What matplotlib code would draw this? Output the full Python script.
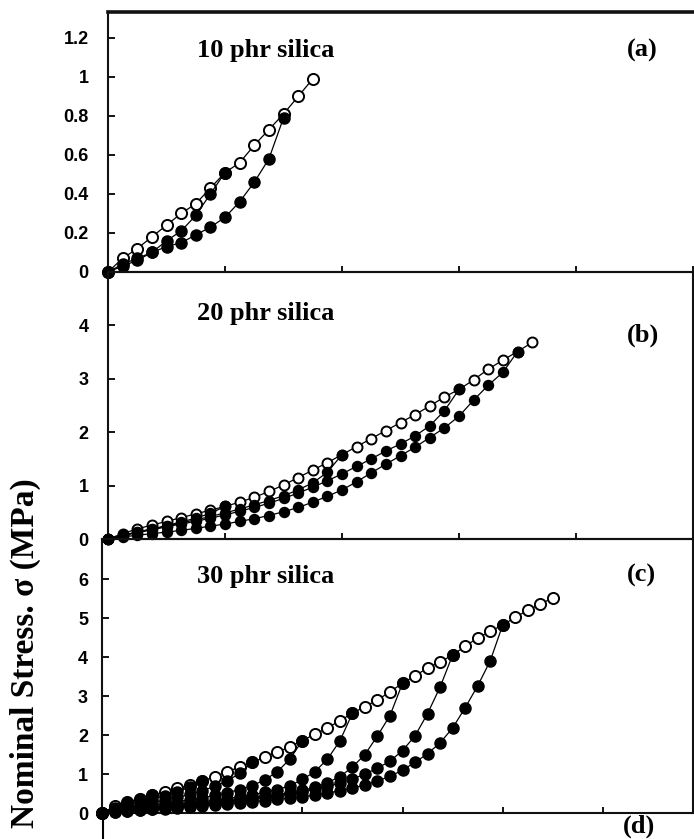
import matplotlib
matplotlib.use("Agg")
import matplotlib.pyplot as plt

# ---------------- data ----------------
STRAIN_GRID = [0.0, 0.125, 0.25, 0.375, 0.5, 0.625, 0.75, 0.875, 1.0, 1.125,
               1.25, 1.375, 1.5, 1.625, 1.75, 1.875, 2.0, 2.125, 2.25, 2.375,
               2.5, 2.625, 2.75, 2.875, 3.0, 3.125, 3.25, 3.375, 3.5, 3.625,
               3.75, 3.875, 4.0, 4.125, 4.25, 4.375, 4.5]

# (a) 10 phr silica
A_LOADING = [0.00, 0.07, 0.12, 0.18, 0.24, 0.30, 0.35, 0.43, 0.51, 0.56,
             0.65, 0.73, 0.81, 0.90, 0.99]
A_CYCLE_10 = [0.00, 0.04, 0.07, 0.10, 0.16, 0.21, 0.29, 0.40, 0.51]
A_CYCLE_15 = [0.00, 0.03, 0.06, 0.10, 0.13, 0.15, 0.19, 0.23, 0.28, 0.36,
              0.46, 0.58, 0.79]

# (b) 20 phr silica
B_LOADING = [0.00, 0.10, 0.19, 0.26, 0.33, 0.40, 0.47, 0.54, 0.61, 0.69,
             0.78, 0.89, 1.01, 1.15, 1.29, 1.43, 1.58, 1.73, 1.88, 2.03,
             2.18, 2.33, 2.49, 2.66, 2.80, 2.98, 3.18, 3.35, 3.51, 3.68]
B_CYCLE_10 = [0.00, 0.07, 0.13, 0.19, 0.25, 0.32, 0.39, 0.48, 0.61]
B_CYCLE_20 = [0.00, 0.07, 0.13, 0.18, 0.24, 0.30, 0.36, 0.42, 0.49, 0.56,
              0.64, 0.72, 0.81, 0.92, 1.05, 1.25, 1.58]
B_CYCLE_30 = [0.00, 0.06, 0.12, 0.17, 0.23, 0.28, 0.33, 0.39, 0.45, 0.52,
              0.59, 0.67, 0.76, 0.86, 0.97, 1.09, 1.22, 1.36, 1.50, 1.65,
              1.78, 1.93, 2.12, 2.40, 2.80]
B_CYCLE_35 = [0.00, 0.04, 0.07, 0.10, 0.13, 0.16, 0.20, 0.24, 0.28, 0.33,
              0.38, 0.44, 0.51, 0.59, 0.69, 0.80, 0.92, 1.07, 1.24, 1.40,
              1.56, 1.72, 1.90, 2.08, 2.30, 2.60, 2.88, 3.12, 3.51]

# (c) 30 phr silica
C_LOADING = [0.00, 0.17, 0.28, 0.37, 0.46, 0.54, 0.63, 0.72, 0.82, 0.93,
             1.06, 1.18, 1.30, 1.43, 1.56, 1.70, 1.86, 2.02, 2.18, 2.37,
             2.56, 2.73, 2.90, 3.11, 3.33, 3.52, 3.72, 3.88, 4.05, 4.28,
             4.49, 4.66, 4.82, 5.02, 5.20, 5.36, 5.52]
C_CYCLE_05 = [0.00, 0.14, 0.26, 0.36, 0.46]
C_CYCLE_10 = [0.00, 0.11, 0.20, 0.28, 0.36, 0.44, 0.54, 0.66, 0.82]
C_CYCLE_15 = [0.00, 0.08, 0.15, 0.21, 0.27, 0.33, 0.40, 0.48, 0.57, 0.68,
              0.82, 1.02, 1.30]
C_CYCLE_20 = [0.00, 0.06, 0.11, 0.16, 0.20, 0.25, 0.29, 0.34, 0.39, 0.45,
              0.52, 0.60, 0.70, 0.85, 1.06, 1.38, 1.86]
C_CYCLE_25 = [0.00, 0.05, 0.09, 0.12, 0.16, 0.19, 0.22, 0.26, 0.29, 0.33,
              0.37, 0.42, 0.47, 0.53, 0.60, 0.70, 0.86, 1.06, 1.38, 1.85,
              2.56]
C_CYCLE_30 = [0.00, 0.04, 0.07, 0.10, 0.13, 0.16, 0.19, 0.22, 0.25, 0.28,
              0.31, 0.35, 0.39, 0.43, 0.47, 0.52, 0.58, 0.66, 0.78, 0.93,
              1.18, 1.50, 1.98, 2.50, 3.33]
C_CYCLE_35 = [0.00, 0.03, 0.06, 0.08, 0.11, 0.13, 0.16, 0.19, 0.22, 0.25,
              0.28, 0.32, 0.36, 0.40, 0.44, 0.49, 0.55, 0.61, 0.68, 0.77,
              0.87, 1.00, 1.15, 1.33, 1.60, 1.98, 2.55, 3.23, 4.05]
C_CYCLE_40 = [0.00, 0.03, 0.05, 0.07, 0.09, 0.11, 0.13, 0.15, 0.18, 0.20,
              0.23, 0.26, 0.29, 0.32, 0.35, 0.38, 0.42, 0.46, 0.51, 0.57,
              0.64, 0.72, 0.82, 0.94, 1.10, 1.30, 1.52, 1.80, 2.18, 2.70,
              3.26, 3.90, 4.82]

PANEL_TITLES = ["10 phr silica", "20 phr silica", "30 phr silica"]
PANEL_LETTERS = ["(a)", "(b)", "(c)", "(d)"]
A_YTICKS = [0, 0.2, 0.4, 0.6, 0.8, 1.0, 1.2]
A_YTICKLABELS = ["0", "0.2", "0.4", "0.6", "0.8", "1", "1.2"]
B_YTICKS = [0, 1, 2, 3, 4]
B_YTICKLABELS = ["0", "1", "2", "3", "4"]
C_YTICKS = [0, 1, 2, 3, 4, 5, 6]
C_YTICKLABELS = ["0", "1", "2", "3", "4", "5", "6"]
X_TICKS = [1, 2, 3, 4, 5]
Y_LABEL = "Nominal Stress. \u03c3 (MPa)"

# ---------------- figure ----------------
W, H = 694, 839
fig = plt.figure(figsize=(W / 100, H / 100), dpi=100)
fig.patch.set_facecolor("white")

SERIF = ["Liberation Serif", "DejaVu Serif"]
SANS = ["Liberation Sans", "DejaVu Sans"]


def ax_px(left, top, right, bottom):
    ax = fig.add_axes([left / W, 1 - bottom / H, (right - left) / W, (bottom - top) / H])
    ax.patch.set_visible(False)
    return ax


def style(ax, xlim, ylim, yticks, yticklabels, pad, show_right=True):
    ax.set_xlim(*xlim)
    ax.set_ylim(*ylim)
    ax.set_xticks(X_TICKS)
    ax.set_xticklabels([])
    ax.set_yticks(yticks)
    ax.set_yticklabels(yticklabels, fontfamily=SANS, fontweight="bold", fontsize=13)
    ax.tick_params(axis="y", direction="in", length=5, width=1.3, pad=pad, colors="black")
    ax.tick_params(axis="x", direction="in", length=4, width=1.3)
    for s in ax.spines.values():
        s.set_linewidth(1.5)
        s.set_color("#111111")
    ax.spines["right"].set_visible(show_right)


def draw(ax, loading, cycles, ms):
    ax.plot(STRAIN_GRID[:len(loading)], loading, "-", color="black", lw=0.9,
            marker="o", ms=ms, mfc="white", mec="black", mew=1.4,
            clip_on=False, zorder=3)
    for cyc in cycles:
        ax.plot(STRAIN_GRID[:len(cyc)], cyc, "-", color="black", lw=0.9,
                marker="o", ms=ms, mfc="black", mec="black", mew=1.0,
                clip_on=False, zorder=4)


# (a)
ax_a = ax_px(108, 12, 693, 272)
style(ax_a, (0, 5.0), (0, 1.333), A_YTICKS, A_YTICKLABELS, pad=14, show_right=False)
ax_a.spines["top"].set_linewidth(2.6)
draw(ax_a, A_LOADING, [A_CYCLE_10, A_CYCLE_15], 8)

# (b)
ax_b = ax_px(108, 272, 693, 539)
style(ax_b, (0, 5.0), (0, 5.0), B_YTICKS, B_YTICKLABELS, pad=14)
draw(ax_b, B_LOADING, [B_CYCLE_10, B_CYCLE_20, B_CYCLE_30, B_CYCLE_35], 7.2)

# (c)
ax_c = ax_px(102, 539, 693, 813)
style(ax_c, (0, 5.9), (0, 7.03), C_YTICKS, C_YTICKLABELS, pad=10)
draw(ax_c, C_LOADING, [C_CYCLE_05, C_CYCLE_10, C_CYCLE_15, C_CYCLE_20,
                       C_CYCLE_25, C_CYCLE_30, C_CYCLE_35, C_CYCLE_40], 8)

# (d) (cut off by the bottom of the figure)
ax_d = ax_px(103, 813, 693, 1087)
ax_d.set_xlim(0, 5.9)
ax_d.set_ylim(0, 6.7)
ax_d.set_xticks([])
ax_d.set_yticks([])
for side in ("top", "right", "bottom"):
    ax_d.spines[side].set_visible(False)
ax_d.spines["left"].set_linewidth(1.5)

# panel titles and letters
title_pos = [(197, 57), (197, 320), (197, 583)]
letter_pos = [(627, 57), (627, 342), (627, 582), (623, 833)]
for txt, (x, y) in zip(PANEL_TITLES, title_pos):
    fig.text(x / W, 1 - y / H, txt, fontfamily=SERIF, fontweight="bold",
             fontsize=19, ha="left", va="baseline")
for txt, (x, y) in zip(PANEL_LETTERS, letter_pos):
    fig.text(x / W, 1 - y / H, txt, fontfamily=SERIF, fontweight="bold",
             fontsize=19, ha="left", va="baseline")

fig.text(25 / W, 1 - 653 / H, Y_LABEL, rotation=90, fontfamily=SERIF,
         fontweight="bold", fontsize=24, ha="center", va="center")

fig.savefig("out.png", dpi=100)
